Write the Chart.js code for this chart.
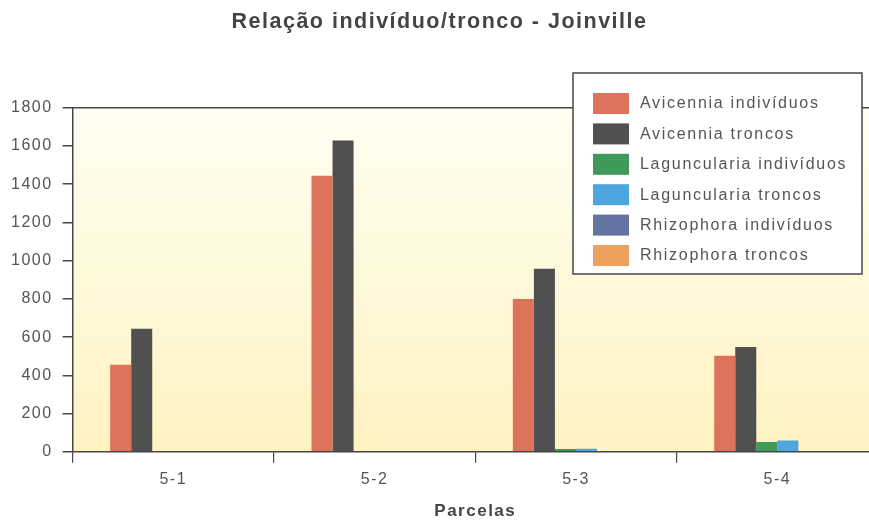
<!DOCTYPE html>
<html>
<head>
<meta charset="utf-8">
<script src="https://cdn.jsdelivr.net/npm/chart.js@4.4.1/dist/chart.umd.min.js"></script>
<style>
  html, body { margin: 0; padding: 0; background: #ffffff; overflow: hidden; }
  #wrap { width: 869px; height: 520px; overflow: hidden; }
  canvas { display: block; }
</style>
</head>
<body>
<div id="wrap"><canvas id="c" width="880" height="520"></canvas></div>
<script>
// Plots (parcelas)
const parcelas = ['5-1', '5-2', '5-3', '5-4'];

// Counts per species: individuals and trunks
const avicenniaIndividuos = [455, 1444, 800, 502];
const avicenniaTroncos = [644, 1629, 958, 549];
const lagunculariaIndividuos = [0, 0, 14, 51];
const lagunculariaTroncos = [0, 0, 16, 59];
const rhizophoraIndividuos = [0, 0, 0, 0];
const rhizophoraTroncos = [0, 0, 0, 0];

const seriesNames = [
  'Avicennia indivíduos', 'Avicennia troncos',
  'Laguncularia indivíduos', 'Laguncularia troncos',
  'Rhizophora indivíduos', 'Rhizophora troncos'
];
const seriesValues = [
  avicenniaIndividuos, avicenniaTroncos,
  lagunculariaIndividuos, lagunculariaTroncos,
  rhizophoraIndividuos, rhizophoraTroncos
];
const seriesColors = ['#de735c', '#505050', '#3f9a5a', '#4ea6e0', '#6573a0', '#eea15c'];

const yTicks = { min: 0, max: 1800, step: 200 };

const FONT = "'Liberation Sans', Arial, sans-serif";
const TEXT = '#555555';
const AXIS = '#474747';

// Slight letter spacing for all canvas text
const spacing = {
  id: 'spacing',
  beforeLayout(chart) { chart.ctx.letterSpacing = '1.5px'; },
  beforeDraw(chart) { chart.ctx.letterSpacing = '1.5px'; }
};

// Pale yellow fill behind the bars, plus the frame line along the top
const plotFrame = {
  id: 'plotFrame',
  beforeDraw(chart) {
    const { ctx, chartArea: a } = chart;
    const g = ctx.createLinearGradient(0, a.top, 0, a.bottom);
    g.addColorStop(0, '#fffef2');
    g.addColorStop(1, '#fff3c2');
    ctx.save();
    ctx.fillStyle = g;
    ctx.fillRect(a.left, a.top, a.right - a.left, a.bottom - a.top);
    ctx.restore();
  },
  afterDatasetsDraw(chart) {
    const { ctx, chartArea: a } = chart;
    ctx.save();
    ctx.strokeStyle = AXIS;
    ctx.lineWidth = 1.5;
    ctx.beginPath();
    ctx.moveTo(a.left, a.top);
    ctx.lineTo(a.right, a.top);
    ctx.stroke();
    ctx.restore();
  }
};

// Boxed legend drawn over the upper right of the plot
const boxLegend = {
  id: 'boxLegend',
  afterDraw(chart) {
    const ctx = chart.ctx;
    const x0 = 573, y0 = 73, w = 289, h = 201;
    ctx.save();
    ctx.fillStyle = '#ffffff';
    ctx.fillRect(x0, y0, w, h);
    ctx.strokeStyle = AXIS;
    ctx.lineWidth = 1.5;
    ctx.strokeRect(x0, y0, w, h);
    ctx.font = '16px ' + FONT;
    ctx.textBaseline = 'middle';
    ctx.letterSpacing = '1.7px';
    chart.data.datasets.forEach((ds, i) => {
      const cy = 103 + i * 30.4;
      ctx.fillStyle = ds.backgroundColor;
      ctx.fillRect(593, cy - 10, 36, 21);
      ctx.fillStyle = TEXT;
      ctx.fillText(ds.label, 640, cy + 1);
    });
    ctx.restore();
  }
};

new Chart(document.getElementById('c'), {
  type: 'bar',
  data: {
    labels: parcelas,
    datasets: seriesNames.map((name, i) => ({
      label: name,
      data: seriesValues[i],
      backgroundColor: seriesColors[i],
      borderWidth: 0,
      barPercentage: 1,
      categoryPercentage: 0.627
    }))
  },
  options: {
    responsive: false,
    devicePixelRatio: 1,
    animation: false,
    layout: { padding: { left: 1, right: 2, top: 0, bottom: 0 } },
    plugins: {
      legend: { display: false },
      tooltip: { enabled: false },
      title: {
        display: true,
        text: 'Relação indivíduo/tronco - Joinville',
        color: '#444444',
        font: { family: FONT, size: 21.5, weight: 'bold' },
        padding: { top: 9, bottom: 73 }
      }
    },
    scales: {
      x: {
        grid: {
          offset: true,
          drawOnChartArea: false,
          tickLength: 11,
          color: AXIS,
          lineWidth: 1.2
        },
        border: { color: AXIS, width: 1.5 },
        ticks: { color: TEXT, font: { family: FONT, size: 16 }, padding: 7 },
        title: {
          display: true,
          text: 'Parcelas',
          color: '#444444',
          font: { family: FONT, size: 17, weight: 'bold', lineHeight: 1 },
          padding: { top: 7, bottom: 0 }
        }
      },
      y: {
        min: yTicks.min,
        max: yTicks.max,
        ticks: {
          stepSize: yTicks.step,
          color: TEXT,
          font: { family: FONT, size: 16 },
          padding: 10,
          callback: (v) => String(v)
        },
        grid: {
          drawOnChartArea: false,
          tickLength: 10,
          color: AXIS,
          lineWidth: 1.5
        },
        border: { color: AXIS, width: 1.5 }
      }
    }
  },
  plugins: [spacing, plotFrame, boxLegend]
});
</script>
</body>
</html>
